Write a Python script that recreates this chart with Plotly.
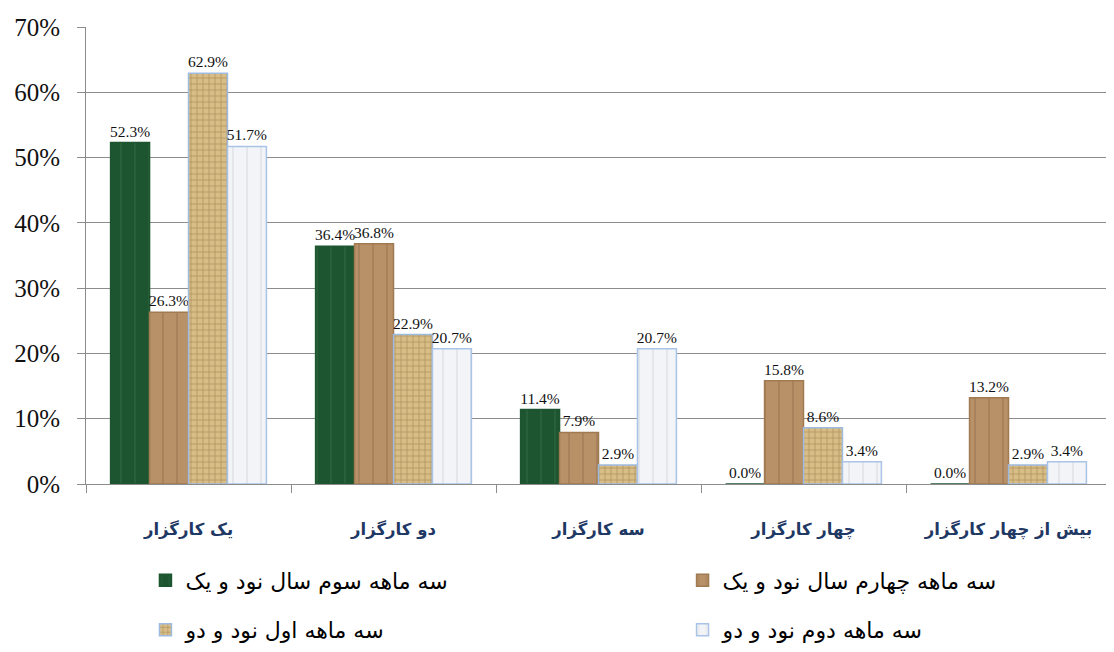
import plotly.graph_objects as go

categories = ["یک کارگزار", "دو کارگزار", "سه کارگزار", "چهار کارگزار", "بیش از چهار کارگزار"]
series_names = ["سه ماهه سوم سال نود و یک", "سه ماهه چهارم سال نود و یک",
                "سه ماهه اول نود و دو", "سه ماهه دوم نود و دو"]
s1 = [0.523, 0.364, 0.114, 0.0, 0.0]
s2 = [0.263, 0.368, 0.079, 0.158, 0.132]
s3 = [0.629, 0.229, 0.029, 0.086, 0.029]
s4 = [0.517, 0.207, 0.207, 0.034, 0.034]
y_ticks = [0, 0.1, 0.2, 0.3, 0.4, 0.5, 0.6, 0.7]

colors = ["#1d5530", "#b99169", "#d8bd86", "#eef1f6"]
lines = ["#1d5530", "#a07a50", "#9dbbe0", "#a9c4e6"]
patterns = [
    dict(shape="|", fgcolor="#3f7a50", bgcolor="#1d5530", size=14, solidity=0.08),
    dict(shape="|", fgcolor="#7a5a38", bgcolor="#b99169", size=14, solidity=0.08),
    dict(shape="+", fgcolor="#8a6a3a", bgcolor="#d8bd86", size=6, solidity=0.25),
    dict(shape="|", fgcolor="#c8ccd4", bgcolor="#f2f4f8", size=14, solidity=0.1),
]
legend_ids = ["legend", "legend2", "legend", "legend2"]

fig = go.Figure()
for i, (name, vals, c, lc, pat, lg) in enumerate(zip(series_names, [s1, s2, s3, s4], colors, lines, patterns, legend_ids)):
    fig.add_trace(go.Bar(
        x=categories, y=vals, name=name, legend=lg, legendgroup=f"g{i}",
        marker=dict(color=c, line=dict(color=lc, width=1.5), pattern=pat),
        texttemplate="%{y:.1%}", textposition="outside", constraintext="none",
        textfont=dict(family="Liberation Serif", size=15.5, color="#111"),
        cliponaxis=False,
    ))

legend_common = dict(orientation="v", yanchor="top", xanchor="left",
                     font=dict(family="DejaVu Sans", size=22, color="#000"),
                     traceorder="grouped", tracegroupgap=18, bgcolor="rgba(0,0,0,0)")
fig.update_layout(
    width=1114, height=652,
    margin=dict(l=78, r=11, t=19, b=176, autoexpand=False),
    paper_bgcolor="white", plot_bgcolor="white",
    barmode="group", bargap=0.24, bargroupgap=0,
    showlegend=True,
    legend=dict(x=0.058, y=-0.165, **legend_common),
    legend2=dict(x=0.582, y=-0.165, **legend_common),
)
fig.update_xaxes(
    type="category", showline=True, linecolor="#8c8c8c", linewidth=1,
    ticks="outside", tickson="boundaries", ticklen=8, tickcolor="#8c8c8c",
    ticklabelstandoff=30,
    tickfont=dict(family="DejaVu Sans", size=16.5, color="#1f3864", weight="bold"),
    showgrid=False,
)
fig.update_yaxes(
    range=[0, 0.7], tickvals=y_ticks, tickformat=".0%",
    showgrid=True, gridcolor="#8c8c8c", gridwidth=1,
    showline=True, linecolor="#8c8c8c", linewidth=1,
    ticks="outside", ticklen=8, tickcolor="#8c8c8c",
    ticklabelstandoff=12,
    tickfont=dict(family="Liberation Serif", size=25, color="#111"),
    zeroline=False,
)
fig.write_html("out.html")
